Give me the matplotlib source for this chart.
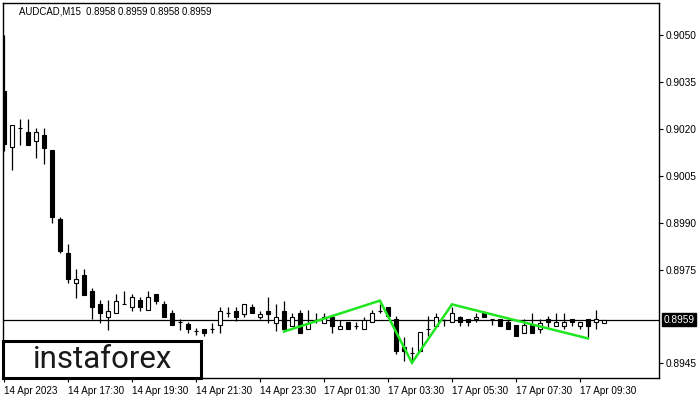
import matplotlib
matplotlib.use("Agg")
import matplotlib.pyplot as plt
from matplotlib.patches import Rectangle

title = "AUDCAD,M15  0.8958 0.8959 0.8958 0.8959"

opens = [0.90322, 0.90142, 0.90202, 0.90190, 0.90161, 0.90181, 0.90133, 0.89911, 0.89802, 0.89708,
         0.89733, 0.89682, 0.89640, 0.89600, 0.89610, 0.89639, 0.89630, 0.89653, 0.89621, 0.89672,
         0.89640, 0.89610, 0.89582, 0.89575, 0.89553, 0.89559, 0.89559, 0.89573, 0.89610, 0.89619,
         0.89608, 0.89630, 0.89600, 0.89619, 0.89580, 0.89619, 0.89571, 0.89610, 0.89559, 0.89589,
         0.89580, 0.89600, 0.89559, 0.89582, 0.89571, 0.89559, 0.89582, 0.89619, 0.89630, 0.89591,
         0.89502, 0.89482, 0.89491, 0.89559, 0.89571, 0.89589, 0.89582, 0.89600, 0.89591, 0.89591,
         0.89610, 0.89591, 0.89591, 0.89582, 0.89573, 0.89548, 0.89573, 0.89559, 0.89591, 0.89571,
         0.89571, 0.89591, 0.89571, 0.89591, 0.89582, 0.89580]
highs = [0.90501, 0.90212, 0.90232, 0.90232, 0.90202, 0.90203, 0.90133, 0.89920, 0.89832, 0.89752,
         0.89752, 0.89691, 0.89653, 0.89653, 0.89672, 0.89682, 0.89672, 0.89664, 0.89682, 0.89672,
         0.89651, 0.89621, 0.89591, 0.89584, 0.89564, 0.89559, 0.89578, 0.89632, 0.89630, 0.89630,
         0.89639, 0.89639, 0.89619, 0.89662, 0.89640, 0.89651, 0.89610, 0.89621, 0.89621, 0.89611,
         0.89611, 0.89600, 0.89589, 0.89582, 0.89584, 0.89600, 0.89621, 0.89640, 0.89630, 0.89602,
         0.89534, 0.89502, 0.89550, 0.89602, 0.89610, 0.89592, 0.89632, 0.89602, 0.89591, 0.89610,
         0.89619, 0.89591, 0.89591, 0.89591, 0.89573, 0.89591, 0.89610, 0.89591, 0.89602, 0.89610,
         0.89610, 0.89591, 0.89582, 0.89591, 0.89621, 0.89590]
lows = [0.90131, 0.90070, 0.90149, 0.90150, 0.90108, 0.90089, 0.89900, 0.89802, 0.89708, 0.89660,
        0.89670, 0.89591, 0.89580, 0.89557, 0.89610, 0.89639, 0.89619, 0.89619, 0.89621, 0.89640,
        0.89600, 0.89572, 0.89557, 0.89548, 0.89541, 0.89538, 0.89548, 0.89548, 0.89598, 0.89587,
        0.89598, 0.89610, 0.89591, 0.89580, 0.89554, 0.89559, 0.89571, 0.89548, 0.89559, 0.89578,
        0.89580, 0.89548, 0.89559, 0.89559, 0.89559, 0.89559, 0.89582, 0.89610, 0.89601, 0.89480,
        0.89459, 0.89452, 0.89491, 0.89538, 0.89571, 0.89571, 0.89582, 0.89571, 0.89571, 0.89582,
        0.89600, 0.89572, 0.89571, 0.89559, 0.89539, 0.89548, 0.89548, 0.89548, 0.89568, 0.89571,
        0.89559, 0.89571, 0.89559, 0.89534, 0.89559, 0.89580]
closes = [0.90152, 0.90212, 0.90202, 0.90150, 0.90190, 0.90140, 0.89920, 0.89811, 0.89719, 0.89719,
          0.89670, 0.89630, 0.89610, 0.89619, 0.89651, 0.89639, 0.89664, 0.89630, 0.89662, 0.89651,
          0.89600, 0.89572, 0.89582, 0.89559, 0.89553, 0.89548, 0.89559, 0.89619, 0.89610, 0.89600,
          0.89639, 0.89610, 0.89608, 0.89609, 0.89600, 0.89559, 0.89600, 0.89548, 0.89580, 0.89589,
          0.89600, 0.89571, 0.89571, 0.89559, 0.89571, 0.89589, 0.89610, 0.89619, 0.89601, 0.89491,
          0.89491, 0.89482, 0.89550, 0.89559, 0.89600, 0.89589, 0.89610, 0.89582, 0.89582, 0.89600,
          0.89600, 0.89591, 0.89571, 0.89559, 0.89539, 0.89573, 0.89548, 0.89580, 0.89582, 0.89582,
          0.89582, 0.89582, 0.89582, 0.89571, 0.89591, 0.89590]

# x-axis labels (bar index -> text)
xtick_bars = [0, 8, 16, 24, 32, 40, 48, 56, 64, 72]
xtick_labels = ["14 Apr 2023", "14 Apr 17:30", "14 Apr 19:30", "14 Apr 21:30", "14 Apr 23:30",
                "17 Apr 01:30", "17 Apr 03:30", "17 Apr 05:30", "17 Apr 07:30", "17 Apr 09:30"]
ytick_values = [0.9050, 0.9035, 0.9020, 0.9005, 0.8990, 0.8975, 0.8945]
ytick_labels = ["0.9050", "0.9035", "0.9020", "0.9005", "0.8990", "0.8975", "0.8945"]
current_price = 0.8959
current_label = "0.8959"

# Head-and-shoulders pattern lines (bar index, price)
pattern_bars = [35, 47, 51, 56, 73]
pattern_prices = [0.89552, 0.89651, 0.89452, 0.89639, 0.89530]

fig = plt.figure(figsize=(7, 4), dpi=100)
ax = fig.add_axes([3/700, 22/400, 656/700, 375/400])
ax.set_facecolor("white")

n = len(opens)
xs = list(range(n))
body_w = 0.56
ax.vlines(xs, lows, highs, color="black", linewidth=0.9, zorder=2)
for i in xs:
    o, c = opens[i], closes[i]
    bottom = min(o, c)
    h = abs(c - o)
    fc = "white" if c > o else "black"
    ax.add_patch(Rectangle((i - body_w/2, bottom), body_w, h, facecolor=fc,
                           edgecolor="black", linewidth=0.8, zorder=3))

ax.axhline(current_price, color="black", linewidth=0.9, zorder=1)
ax.plot(pattern_bars, pattern_prices, color="#1FE61F", linewidth=1.8, zorder=4,
        solid_joinstyle="miter")

ax.set_xlim(-0.12, 81.88)
ax.set_ylim(0.894034, 0.906034)

ax.yaxis.tick_right()
ax.set_yticks(ytick_values)
ax.set_yticklabels(ytick_labels, fontsize=7.3, family="Liberation Sans")
ax.tick_params(axis="y", direction="out", length=3, width=0.8, pad=2)

ax.set_xticks(xtick_bars)
ax.set_xticklabels(xtick_labels, fontsize=7.1, family="Liberation Sans", ha="left")
ax.tick_params(axis="x", direction="out", length=3, width=0.8, pad=3)

for s in ax.spines.values():
    s.set_linewidth(1.0)
    s.set_color("black")

ax.annotate(current_label, xy=(1.0, current_price), xycoords=("axes fraction", "data"),
            xytext=(3.5, 0), textcoords="offset points", ha="left", va="center",
            fontsize=7.3, family="Liberation Sans", color="white",
            bbox=dict(boxstyle="square,pad=0.15", facecolor="black", edgecolor="black"),
            annotation_clip=False)

ax.text(16/656, 1 - 9/375, title, transform=ax.transAxes, fontsize=6.9,
        family="Liberation Sans", color="black", ha="left", va="center")

# instaforex logo box
logo = Rectangle((0, 0), 198/656, 37/375, transform=ax.transAxes, facecolor="white",
                 edgecolor="black", linewidth=2.2, zorder=6, clip_on=False)
ax.add_patch(logo)
ax.text(100/656, 18/375, "instaforex", transform=ax.transAxes, fontsize=22.5,
        family="Roboto", color="#1a1a1a", ha="center", va="center", zorder=7)

fig.savefig("out.png", dpi=100, facecolor="white")
